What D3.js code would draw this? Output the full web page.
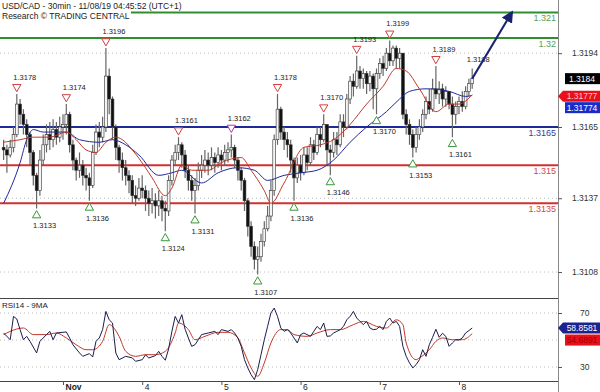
<!DOCTYPE html>
<html>
<head>
<meta charset="utf-8">
<script src="https://cdn.jsdelivr.net/npm/d3@7"></script>
<style>
  body { margin: 0; background: #fff; }
  svg { display: block; font-family: "Liberation Sans", Arial, sans-serif; }
</style>
</head>
<body>
<div id="chart"></div>
<script>
// bars, one per hour, Oct 31 -> Nov 8
const firstOpen = 1.3157;
const closes = [
  1.3156,1.3154,1.3157,1.3162,1.3174,1.3170,1.3166,1.3162,1.3155,1.3146,
  1.3140,1.3152,1.3158,1.3162,1.3160,1.3164,1.3161,1.3165,1.3166,1.3170,
  1.3158,1.3152,1.3148,1.3150,1.3146,1.3145,1.3142,1.3155,1.3163,1.3161,
  1.3165,1.3185,1.3176,1.3165,1.3157,1.3152,1.3149,1.3146,1.3144,1.3138,
  1.3137,1.3141,1.3140,1.3137,1.3135,1.3136,1.3134,1.3136,1.3133,1.3132,
  1.3144,1.3152,1.3155,1.3158,1.3154,1.3148,1.3144,1.3140,1.3142,1.3148,
  1.3150,1.3152,1.3150,1.3153,1.3151,1.3154,1.3152,1.3155,1.3156,1.3157,
  1.3152,1.3148,1.3144,1.3136,1.3126,1.3118,1.3113,1.3114,1.3120,1.3125,
  1.3130,1.3140,1.3160,1.3172,1.3163,1.3160,1.3158,1.3152,1.3145,1.3150,
  1.3147,1.3154,1.3151,1.3158,1.3155,1.3162,1.3160,1.3166,1.3156,1.3155,
  1.3160,1.3158,1.3167,1.3165,1.3176,1.3183,1.3181,1.3187,1.3184,1.3186,
  1.3182,1.3185,1.3180,1.3186,1.3190,1.3188,1.3194,1.3191,1.3196,1.3192,
  1.3194,1.3170,1.3166,1.3162,1.3157,1.3162,1.3165,1.3170,1.3175,1.3172,
  1.3180,1.3178,1.3180,1.3176,1.3179,1.3174,1.3170,1.3173,1.3175,1.3173,
  1.3179,1.3182,1.3184
];
const highs = [
  1.3160,1.3158,1.3160,1.3165,1.3178,1.3176,1.3172,1.3168,1.3163,1.3156,
  1.3147,1.3156,1.3162,1.3166,1.3167,1.3168,1.3167,1.3169,1.3170,1.3174,
  1.3171,1.3160,1.3153,1.3155,1.3152,1.3149,1.3147,1.3158,1.3166,1.3167,
  1.3169,1.3196,1.3188,1.3177,1.3166,1.3158,1.3155,1.3152,1.3148,1.3146,
  1.3142,1.3145,1.3146,1.3142,1.3140,1.3141,1.3139,1.3140,1.3138,1.3136,
  1.3146,1.3154,1.3158,1.3161,1.3159,1.3156,1.3150,1.3146,1.3145,1.3151,
  1.3154,1.3156,1.3155,1.3157,1.3155,1.3157,1.3156,1.3158,1.3159,1.3162,
  1.3158,1.3153,1.3149,1.3145,1.3137,1.3128,1.3120,1.3118,1.3123,1.3128,
  1.3134,1.3144,1.3162,1.3178,1.3173,1.3165,1.3163,1.3160,1.3153,1.3153,
  1.3154,1.3157,1.3157,1.3161,1.3160,1.3165,1.3165,1.3170,1.3166,1.3158,
  1.3163,1.3163,1.3170,1.3170,1.3178,1.3185,1.3186,1.3193,1.3189,1.3188,
  1.3187,1.3187,1.3186,1.3188,1.3192,1.3193,1.3196,1.3199,1.3197,1.3197,
  1.3196,1.3194,1.3172,1.3168,1.3164,1.3165,1.3168,1.3172,1.3177,1.3180,
  1.3184,1.3189,1.3183,1.3182,1.3181,1.3179,1.3177,1.3175,1.3177,1.3179,
  1.3181,1.3184,1.3188
];
const lows = [
  1.3152,1.3147,1.3153,1.3155,1.3161,1.3166,1.3162,1.3157,1.3150,1.3142,
  1.3133,1.3138,1.3150,1.3155,1.3156,1.3157,1.3158,1.3159,1.3160,1.3162,
  1.3155,1.3148,1.3144,1.3145,1.3142,1.3140,1.3136,1.3141,1.3154,1.3157,
  1.3159,1.3163,1.3170,1.3160,1.3152,1.3147,1.3144,1.3142,1.3139,1.3135,
  1.3134,1.3136,1.3137,1.3132,1.3130,1.3131,1.3129,1.3130,1.3128,1.3124,
  1.3130,1.3142,1.3150,1.3152,1.3149,1.3145,1.3140,1.3136,1.3131,1.3140,
  1.3145,1.3147,1.3146,1.3148,1.3147,1.3149,1.3148,1.3150,1.3151,1.3153,
  1.3149,1.3144,1.3140,1.3132,1.3122,1.3114,1.3109,1.3107,1.3112,1.3118,
  1.3124,1.3128,1.3138,1.3158,1.3160,1.3156,1.3153,1.3147,1.3136,1.3143,
  1.3144,1.3146,1.3148,1.3150,1.3152,1.3154,1.3157,1.3159,1.3150,1.3146,
  1.3153,1.3154,1.3157,1.3161,1.3164,1.3174,1.3177,1.3180,1.3180,1.3180,
  1.3178,1.3179,1.3172,1.3170,1.3184,1.3185,1.3187,1.3189,1.3189,1.3188,
  1.3188,1.3168,1.3162,1.3158,1.3153,1.3155,1.3160,1.3163,1.3168,1.3170,
  1.3171,1.3176,1.3174,1.3173,1.3173,1.3172,1.3161,1.3166,1.3170,1.3171,
  1.3172,1.3177,1.3180
];

const dayTickBars = [18, 42, 66, 90, 114, 138];
const dayTickLabels = ["Nov", "4", "5", "6", "7", "8"];

// moving averages on the price pane
const maBlueBars = [0,5,7,9,12,19,23,29,33,37,41,47,51,54,60,65,71,76,80,85,90,95,100,105,110,116,120,123,128,135,140,142];
const maBlue = [1.3135,1.3151,1.3160,1.3164,1.3163,1.3163,1.3160,1.3159,1.3160,1.3158,1.3154,1.3146,1.3147,1.3148,1.3143,1.3147,1.3149,1.3148,1.3144,1.3146,1.3147,1.3148,1.3152,1.3159,1.3165,1.3171,1.3176,1.3179,1.3180,1.3179,1.3177,1.31774];
const maRedBars = [0,5,9,14,19,22,25,28,31,34,36,39,43,45,49,51,54,57,62,66,72,75,79,81,85,91,96,100,105,110,115,119,122,126,131,135,138,142];
const maRed = [1.3159,1.3160,1.3161,1.3161,1.3163,1.3160,1.3156,1.3155,1.3159,1.3161,1.3160,1.3156,1.3149,1.3145,1.3138,1.3141,1.3150,1.3148,1.3148,1.3151,1.3153,1.3148,1.3140,1.3135,1.3143,1.3157,1.3158,1.3160,1.3166,1.3174,1.3181,1.3188,1.3187,1.3180,1.3171,1.3174,1.3174,1.31777];

// swing highs / lows marked on the chart
const swingBars = [4,10,19,26,31,49,53,58,69,77,83,88,97,99,107,113,117,124,131,136];
const swingPrices = [1.3178,1.3133,1.3174,1.3136,1.3196,1.3124,1.3161,1.3131,1.3162,1.3107,1.3178,1.3136,1.3170,1.3146,1.3193,1.3170,1.3199,1.3153,1.3189,1.3161];
const swingTypes = ["H","L","H","L","H","L","H","L","H","L","H","L","H","L","H","L","H","L","H","L"];

const levels = [1.3210, 1.3200, 1.3165, 1.3150, 1.3135];
const levelLabels = ["1.321", "1.32", "1.3165", "1.315", "1.3135"];
const levelKinds = ["target", "target", "pivot", "support", "support"];

const priceTicks = [1.3108, 1.3137, 1.3165, 1.3194];

// RSI14 and its 9 period average
const rsiBars = [
  0,2,3,4,5,6,7,8,10,11,
  13,14,15,16,19,20,21,23,24,26,
  27,28,29,30,31,32,33,34,35,37,
  39,40,42,43,44,46,47,48,49,50,
  51,52,53,54,55,56,57,58,59,60,
  62,64,65,66,68,69,70,71,72,73,
  74,75,76,77,78,79,80,81,82,83,
  84,85,86,87,88,89,90,91,93,94,
  95,96,97,98,99,100,101,102,103,104,
  105,106,107,108,109,110,111,112,113,114,
  115,116,117,118,119,120,121,122,123,124,
  125,126,127,128,129,130,131,132,133,134,
  135,136,137,138,139,140,141,142
];
const rsi = [
  55.2,50.2,67.5,65.6,57.7,50.2,52.7,49,40.4,49,
  54,56.4,50.2,55.2,56,51.5,46.5,40.4,37.9,39.9,
  37.4,49,51.5,57.7,71.2,65,62.6,40.4,35.4,37.9,
  36.7,34.2,35.4,39,36.7,38.4,41.6,37.9,35,43.3,
  56.4,67.5,62.6,68.8,58,51.5,45.3,46.5,50.2,54,
  55.2,56.4,54,57.7,56.4,57.7,55.2,51.5,45.3,35.4,
  29.3,24.3,20.6,28,39.1,50.2,60.1,70,73.7,67.5,
  58.9,56.4,57.7,55.2,51.5,47.8,54,55.2,52.7,56.4,
  60.1,57.7,62.6,52.7,53,55.2,56.4,57.7,60.1,65,
  67.5,71.2,66.3,63.8,61.4,63.8,58.9,57.7,58,60.1,
  57.7,63.8,66.3,62.6,63.8,60.1,45.3,37.9,33,29.3,
  31.7,35.4,42.8,37.9,46.5,52,58,52,55,52.7,
  45.3,47.8,50.2,50,51.5,55.2,57,58.8581
];
const rsiMaBars = [0,2,6,9,13,16,19,22,25,27,30,32,35,37,40,43,46,49,52,53,56,58,61,65,68,71,73,75,77,79,81,84,86,88,92,95,99,102,106,109,113,116,119,121,122,125,126,129,131,133,136,139,142];
const rsiMa = [54,56.4,58.9,54,54,55.2,51.5,46.5,42.8,42.8,49,61.4,52.7,41.6,37.9,39.1,39.1,41.6,55.2,62.6,57.7,50.2,52.7,55.7,55.7,51.5,40.4,29.3,23.1,33,47.8,57.7,57.7,54,52.7,55.2,57.7,57.7,61.4,63.8,60.1,58.9,65,61.4,47.8,35.4,36.7,42.8,49,51.5,50.2,50.2,54.6891];
const rsiTicks = [30, 70];
const rsiGrid = [30, 50, 70];

// projection arrow
const arrowBars = [142, 154];
const arrowPrices = [1.3184, 1.3210];

const W = 600, H = 392;
const plotW = 558;
const mainBottom = 298;
const paneTop = 299, paneBottom = 381;

const colors = {
  target: "#2f8f2f", pivot: "#1f2a9a", support: "#d23030",
  targetText: "#5aa05a", pivotText: "#34409c", supportText: "#d04848",
  maRed: "#c0392b", maBlue: "#1f2a9a", arrow: "#1a2370"
};

const svg = d3.select("#chart").append("svg")
  .attr("width", W)
  .attr("height", H);

const x = d3.scaleLinear().domain([0, 142]).range([3.6, 472.2]);
const y = d3.scaleLinear().domain([1.30978, 1.32149]).range([mainBottom, 0]);
const yr = d3.scaleLinear().domain([19.6, 80.4]).range([paneBottom, paneTop]);

const defs = svg.append("defs");
defs.append("clipPath").attr("id", "clipMain")
  .append("rect").attr("x", 0).attr("y", 0).attr("width", plotW).attr("height", mainBottom);
defs.append("clipPath").attr("id", "clipRsi")
  .append("rect").attr("x", 0).attr("y", paneTop).attr("width", plotW).attr("height", paneBottom - paneTop);
defs.append("marker")
  .attr("id", "head")
  .attr("viewBox", "0 -5 10 10")
  .attr("refX", 8)
  .attr("markerUnits", "userSpaceOnUse")
  .attr("markerWidth", 12)
  .attr("markerHeight", 12)
  .attr("orient", "auto")
  .append("path").attr("d", "M0,-5L10,0L0,5Z").attr("fill", colors.arrow);

// dotted grid
svg.append("g").selectAll("line").data(priceTicks).join("line")
  .attr("x1", 0).attr("x2", plotW)
  .attr("y1", d => y(d)).attr("y2", d => y(d))
  .attr("stroke", "#bbb").attr("stroke-dasharray", "1,3");
svg.append("g").selectAll("line").data(rsiGrid).join("line")
  .attr("x1", 0).attr("x2", plotW)
  .attr("y1", d => yr(d)).attr("y2", d => yr(d))
  .attr("stroke", "#bbb").attr("stroke-dasharray", "1,3");

const mainG = svg.append("g").attr("clip-path", "url(#clipMain)");

// horizontal levels
mainG.append("g").selectAll("line").data(levels).join("line")
  .attr("x1", 0).attr("x2", plotW)
  .attr("y1", d => y(d)).attr("y2", d => y(d))
  .attr("stroke", (d, i) => colors[levelKinds[i]])
  .attr("stroke-width", 2);

// candles
const bars = closes.map((c, i) => ({
  i: i,
  o: i === 0 ? firstOpen : closes[i - 1],
  c: c,
  h: highs[i],
  l: lows[i]
}));

mainG.append("g").selectAll("line").data(bars).join("line")
  .attr("x1", d => x(d.i)).attr("x2", d => x(d.i))
  .attr("y1", d => y(d.h)).attr("y2", d => y(d.l))
  .attr("stroke", "#666").attr("stroke-width", 1.2);

mainG.append("g").selectAll("rect").data(bars).join("rect")
  .attr("x", d => x(d.i) - 1.4)
  .attr("width", 2.8)
  .attr("y", d => y(Math.max(d.o, d.c)))
  .attr("height", d => Math.max(1, Math.abs(y(d.o) - y(d.c))))
  .attr("fill", d => d.c >= d.o ? "#f4f4f4" : "#111")
  .attr("stroke", "#333")
  .attr("stroke-width", 0.6);

// moving averages
const maLine = d3.line().curve(d3.curveMonotoneX);
mainG.append("path")
  .attr("d", maLine(maBlueBars.map((b, i) => [x(b), y(maBlue[i])])))
  .attr("fill", "none").attr("stroke", colors.maBlue).attr("stroke-width", 1);
mainG.append("path")
  .attr("d", maLine(maRedBars.map((b, i) => [x(b), y(maRed[i])])))
  .attr("fill", "none").attr("stroke", colors.maRed).attr("stroke-width", 1);

// level labels
svg.append("g").selectAll("text").data(levels).join("text")
  .attr("x", plotW - 2)
  .attr("y", d => y(d) + 9)
  .attr("text-anchor", "end")
  .attr("font-size", 9)
  .attr("fill", (d, i) => colors[levelKinds[i] + "Text"])
  .text((d, i) => levelLabels[i]);

// swing markers
const swings = swingBars.map((b, i) => ({ b: b, p: swingPrices[i], t: swingTypes[i] }));
const tri = d3.symbol().type(d3.symbolTriangle).size(30);
svg.append("g").selectAll("path").data(swings).join("path")
  .attr("d", tri)
  .attr("transform", d => d.t === "H"
    ? `translate(${x(d.b)},${y(d.p) - 7}) rotate(180)`
    : `translate(${x(d.b)},${y(d.p) + 7})`)
  .attr("fill", "#fff")
  .attr("stroke", d => d.t === "H" ? (d.p === 1.3162 ? "#b03aa8" : "#d04040") : "#3a963a")
  .attr("stroke-width", 1);
svg.append("g").selectAll("text").data(swings).join("text")
  .attr("x", d => x(d.b) + 8)
  .attr("y", d => d.t === "H" ? y(d.p) - 14 : y(d.p) + 20)
  .attr("text-anchor", "middle")
  .attr("font-size", 7.5)
  .attr("fill", "#222")
  .text(d => d.p.toFixed(4));

// latest high label
const last = bars[bars.length - 1];
svg.append("text")
  .attr("x", x(last.i) + 6)
  .attr("y", y(last.h) - 6)
  .attr("text-anchor", "middle")
  .attr("font-size", 7.5)
  .attr("fill", "#222")
  .text(last.h.toFixed(4));

// arrow
svg.append("line")
  .attr("x1", x(arrowBars[0])).attr("y1", y(arrowPrices[0]))
  .attr("x2", x(arrowBars[1])).attr("y2", y(arrowPrices[1]))
  .attr("stroke", colors.arrow).attr("stroke-width", 2)
  .attr("marker-end", "url(#head)");

// title
svg.append("rect").attr("x", 0).attr("y", 0).attr("width", 131).attr("height", 20).attr("fill", "#fff");
svg.append("text").attr("x", 2).attr("y", 9).attr("font-size", 8.5).attr("fill", "#222")
  .text("USD/CAD - 30min - 11/08/19 04:45:52 (UTC+1)");
svg.append("text").attr("x", 2).attr("y", 19).attr("font-size", 8.5).attr("fill", "#222")
  .text("Research © TRADING CENTRAL");

// RSI pane
const rsiG = svg.append("g").attr("clip-path", "url(#clipRsi)");
rsiG.append("path")
  .attr("d", d3.line().curve(d3.curveMonotoneX)(rsiMaBars.map((b, i) => [x(b), yr(rsiMa[i])])))
  .attr("fill", "none").attr("stroke", colors.maRed).attr("stroke-width", 1);
rsiG.append("path")
  .attr("d", d3.line()(rsiBars.map((b, i) => [x(b), yr(rsi[i])])))
  .attr("fill", "none").attr("stroke", "#1c1c4a").attr("stroke-width", 1);

svg.append("text").attr("x", 2).attr("y", 308).attr("font-size", 8).attr("fill", "#222")
  .text("RSI14 - 9MA");

// frames
svg.append("line").attr("x1", 0).attr("x2", plotW).attr("y1", 298.5).attr("y2", 298.5).attr("stroke", "#444");
svg.append("line").attr("x1", 0).attr("x2", plotW).attr("y1", 381.5).attr("y2", 381.5).attr("stroke", "#444");
svg.append("line").attr("x1", plotW + 0.5).attr("x2", plotW + 0.5).attr("y1", 0).attr("y2", H).attr("stroke", "#888");

// axes
const yAxis = svg.append("g")
  .attr("transform", `translate(${plotW},0)`)
  .call(d3.axisRight(y).tickValues(priceTicks).tickFormat(d3.format(".4f")).tickSize(4).tickPadding(10));
yAxis.select(".domain").remove();
yAxis.selectAll("text").attr("font-size", 8.5).attr("fill", "#333").attr("font-family", null);
yAxis.selectAll("line").attr("stroke", "#555");

const rAxis = svg.append("g")
  .attr("transform", `translate(${plotW},0)`)
  .call(d3.axisRight(yr).tickValues(rsiTicks).tickSize(4).tickPadding(18));
rAxis.select(".domain").remove();
rAxis.selectAll("text").attr("font-size", 8.5).attr("fill", "#333").attr("font-family", null);
rAxis.selectAll("line").attr("stroke", "#555");

const xAxis = svg.append("g")
  .attr("transform", `translate(0,${paneBottom})`)
  .call(d3.axisBottom(x).tickValues(dayTickBars).tickFormat((d, i) => dayTickLabels[i]).tickSize(4));
xAxis.select(".domain").remove();
xAxis.selectAll("line").attr("stroke", "#555");
xAxis.selectAll("text")
  .attr("text-anchor", "start")
  .attr("x", 2).attr("y", 3)
  .attr("font-size", 8.5).attr("fill", "#222").attr("font-family", null)
  .attr("font-weight", (d, i) => i === 0 ? "bold" : "normal");

// value tags on the right axis
function tag(yPos, text, fill, textFill, pointer) {
  const g = svg.append("g");
  if (pointer) {
    g.append("path")
      .attr("d", `M${plotW},${yPos} L${plotW + 5},${yPos - 5.5} L${W},${yPos - 5.5} L${W},${yPos + 5.5} L${plotW + 5},${yPos + 5.5} Z`)
      .attr("fill", fill);
  } else {
    g.append("rect").attr("x", 565).attr("y", yPos - 5.5).attr("width", W - 565).attr("height", 11).attr("fill", fill);
  }
  g.append("text")
    .attr("x", 582).attr("y", yPos + 3)
    .attr("text-anchor", "middle")
    .attr("font-size", 8.5)
    .attr("fill", textFill)
    .text(text);
}
const redMaLast = maRed[maRed.length - 1];
const blueMaLast = maBlue[maBlue.length - 1];
tag(y(last.c), last.c.toFixed(4), "#000", "#fff", false);
tag(y(redMaLast) + 1.5, redMaLast.toFixed(5), "#e8101a", "#ffc8c8", true);
tag(y(redMaLast) + 13, blueMaLast.toFixed(5), "#1a2cc8", "#fff", false);
tag(yr(rsi[rsi.length - 1]), rsi[rsi.length - 1].toFixed(4), "#1a2390", "#fff", true);
tag(yr(rsi[rsi.length - 1]) + 12, rsiMa[rsiMa.length - 1].toFixed(4), "#e8101a", "#a00000", false);
</script>
</body>
</html>
